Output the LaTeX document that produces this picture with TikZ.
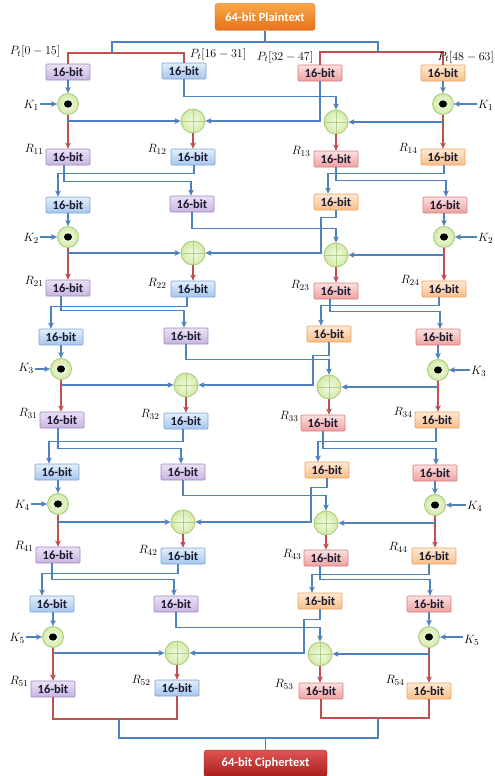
\documentclass[tikz,border=0pt]{standalone}
\usepackage{fontspec}
\newfontfamily\carl{Carlito}
\usetikzlibrary{arrows.meta,calc}
\definecolor{cBlue}{HTML}{4F81BD}
\definecolor{cRed}{HTML}{C0504D}
\definecolor{puT}{HTML}{EAE2F5}\definecolor{puB}{HTML}{C8B4E0}\definecolor{puD}{HTML}{9F86C6}
\definecolor{blT}{HTML}{E2EEFB}\definecolor{blB}{HTML}{A6C6EE}\definecolor{blD}{HTML}{7AA3D6}
\definecolor{rdT}{HTML}{FCE0E0}\definecolor{rdB}{HTML}{EEA0A0}\definecolor{rdD}{HTML}{D77C7C}
\definecolor{orT}{HTML}{FEE9D4}\definecolor{orB}{HTML}{F8BE88}\definecolor{orD}{HTML}{EBA060}
\definecolor{cgIn}{HTML}{F4FBE6}\definecolor{cgOut}{HTML}{D2EAA8}\definecolor{cgB}{HTML}{A8C878}\definecolor{cgL}{HTML}{B5CF8A}
\definecolor{ptT}{HTML}{F8A848}\definecolor{ptB}{HTML}{E5701A}\definecolor{ptD}{HTML}{D0681C}
\definecolor{ctT}{HTML}{E05454}\definecolor{ctB}{HTML}{A81C1C}\definecolor{ctD}{HTML}{9A2020}
\definecolor{txt}{HTML}{1A1A30}
\begin{document}
\begin{tikzpicture}[x=1pt,y=-1pt,
  bline/.style={cBlue, line width=1.5pt},
  rline/.style={cRed, line width=1.5pt},
  arr/.style={-{Stealth[length=6pt,width=5.5pt,inset=1.5pt]}},
  bx/.style={minimum width=44pt, minimum height=16pt, inner sep=0pt, line width=0.7pt,
     rounded corners=1pt, font=\carl\bfseries\fontsize{12.5}{13}\selectfont, text=txt},
  pu/.style={bx, draw=puD, top color=puT, bottom color=puB},
  blu/.style={bx, draw=blD, top color=blT, bottom color=blB},
  rdb/.style={bx, draw=rdD, top color=rdT, bottom color=rdB},
  org/.style={bx, draw=orD, top color=orT, bottom color=orB},
  dotc/.style={circle, minimum size=21pt, inner sep=0pt, draw=cgB, line width=0.8pt,
     inner color=cgIn, outer color=cgOut,
     path picture={\fill[black] (path picture bounding box.center) ellipse (4pt and 3.6pt);}},
  plusc/.style={circle, minimum size=24pt, inner sep=0pt, draw=cgB, line width=0.8pt,
     inner color=cgIn, outer color=cgOut,
     path picture={\draw[cgL, line width=0.6pt] (path picture bounding box.north) -- (path picture bounding box.south)
        (path picture bounding box.west) -- (path picture bounding box.east);}},
  mlab/.style={inner sep=1pt, font=\fontsize{13}{14}\selectfont},
  bigbox/.style={minimum width=#1, minimum height=27pt, inner sep=0pt, rounded corners=3pt,
     font=\carl\bfseries\fontsize{12.5}{13}\selectfont, text=white},
]
\useasboundingbox (0,0) rectangle (495,776);

% ---------- top ----------
\node[bigbox=100pt, draw=ptD, top color=ptT, bottom color=ptB] (pt) at (265,17) {64-bit Plaintext};
\node[pu]  (a0) at (68,72)  {16-bit};
\node[blu] (b0) at (184,71) {16-bit};
\node[rdb] (c0) at (320,73) {16-bit};
\node[org] (d0) at (443,73) {16-bit};
\coordinate (jL) at (112,53);
\coordinate (jR) at (378,52);
\draw[rline] (a0.north) |- (jL) -| (b0.north);
\draw[rline] (c0.north) |- (jR) -| (d0.north);
\draw[bline] (pt.south) -- (pt.south |- 0,42);
\draw[bline] (jL) |- (pt.south |- 0,42) -| (jR);
\node[mlab] (pl1) at (35,52) {$P_t[0-15]$};
\node[mlab] (pl2) at (218,55) {$P_t[16-31]$};
\node[mlab] (pl3) at (285,57) {$P_t[32-47]$};
\node[mlab, anchor=east] (pl4) at (495,57) {$P_t[48-63]$};

% ---------- round 1 ----------
\node[dotc] (k1a) at (68,104) {};
\node[dotc] (k1b) at (443,104) {};
\node[plusc] (p1a) at (193,121) {};
\node[plusc] (p1b) at (336,122) {};
\node[pu]  (r11) at (68,157)  {16-bit};
\node[blu] (r12) at (193,157) {16-bit};
\node[rdb] (r13) at (336,159) {16-bit};
\node[org] (r14) at (443,157) {16-bit};
\node[mlab, anchor=east] (kl1) at (40,105) {$K_1$};
\node[mlab, anchor=west] (kr1) at (477,105) {$K_1$};
\draw[bline,arr] (k1a.west -| kl1.east) -- (k1a.west);
\draw[bline,arr] (k1b.east -| kr1.west) -- (k1b.east);
\draw[bline,arr] (k1a.north |- a0.south) -- (k1a.north);
\draw[bline,arr] (k1b.north |- d0.south) -- (k1b.north);
\draw[rline,arr] (k1a.south) -- (k1a.south |- r11.north);
\draw[rline,arr] (p1a.south) -- (p1a.south |- r12.north);
\draw[rline,arr] (p1b.south) -- (p1b.south |- r13.north);
\draw[rline,arr] (k1b.south) -- (k1b.south |- r14.north);
\draw[bline,arr] (b0.south) -- ++(0,17) -| (p1b.north);
\draw[bline,arr] (c0.south) |- (p1a.east);
\draw[bline,arr] (k1a.south |- p1a.west) -- (p1a.west);
\draw[bline,arr] (k1b.south |- p1b.east) -- (p1b.east);
\node[mlab, anchor=east] (lr11) at ($(r11.west)+(-1,-8)$) {$R_{11}$};
\node[mlab, anchor=east] (lr12) at ($(r12.west)+(-3,-8)$) {$R_{12}$};
\node[mlab, anchor=east] (lr13) at ($(r13.west)+(-2,-8)$) {$R_{13}$};
\node[mlab, anchor=east] (lr14) at ($(r14.west)+(-2,-9)$) {$R_{14}$};

% ---------- row 2 ----------
\node[blu] (m11) at (68,205)  {16-bit};
\node[pu]  (m12) at (192,204) {16-bit};
\node[org] (m13) at (336,202) {16-bit};
\node[rdb] (m14) at (445,205) {16-bit};
\draw[bline,arr] ($(r11.south)+(-4,0)$) -- ++(0,16) -| ($(m12.north)+(-1,0)$);
\draw[bline,arr] ($(r12.south)+(1,0)$) -- ++(0,8) -| ($(m11.north)+(-10,0)$);
\draw[bline,arr] (r13.south) -- ++(0,13) -| ($(m14.north)+(1,0)$);
\draw[bline,arr] ($(r14.south)+(1,0)$) -- ++(0,8) -| ($(m13.north)+(-8,0)$);

% ---------- round 2 ----------
\node[dotc] (k2a) at (68,237) {};
\node[dotc] (k2b) at (444,237) {};
\node[plusc] (p2a) at (193,253) {};
\node[plusc] (p2b) at (336,255) {};
\node[pu]  (r21) at (68,288)  {16-bit};
\node[blu] (r22) at (193,289) {16-bit};
\node[rdb] (r23) at (336,291) {16-bit};
\node[org] (r24) at (444,289) {16-bit};
\node[mlab, anchor=east] (kl2) at (40,238) {$K_2$};
\node[mlab, anchor=west] (kr2) at (477,238) {$K_2$};
\draw[bline,arr] (k2a.west -| kl2.east) -- (k2a.west);
\draw[bline,arr] (k2b.east -| kr2.west) -- (k2b.east);
\draw[bline,arr] (k2a.north |- m11.south) -- (k2a.north);
\draw[bline,arr] (k2b.north |- m14.south) -- (k2b.north);
\draw[rline,arr] (k2a.south) -- (k2a.south |- r21.north);
\draw[rline,arr] (p2a.south) -- (p2a.south |- r22.north);
\draw[rline,arr] (p2b.south) -- (p2b.south |- r23.north);
\draw[rline,arr] (k2b.south) -- (k2b.south |- r24.north);
\draw[bline,arr] (m12.south) -- ++(0,16) -| (p2b.north);
\draw[bline,arr] (m13.south) -- ++(0,7) -| (p2a.east -| 321,0) -- (p2a.east);
\draw[bline,arr] (k2a.south |- p2a.west) -- (p2a.west);
\draw[bline,arr] (k2b.south |- p2b.east) -- (p2b.east);
\node[mlab, anchor=east] (lr21) at ($(r21.west)+(-1,-7)$) {$R_{21}$};
\node[mlab, anchor=east] (lr22) at ($(r22.west)+(-3,-6)$) {$R_{22}$};
\node[mlab, anchor=east] (lr23) at ($(r23.west)+(-3,-6)$) {$R_{23}$};
\node[mlab, anchor=east] (lr24) at ($(r24.west)+(-1,-9)$) {$R_{24}$};

% ---------- row 3 ----------
\node[blu] (m21) at (61,337)  {16-bit};
\node[pu]  (m22) at (186,336) {16-bit};
\node[org] (m23) at (329,334) {16-bit};
\node[rdb] (m24) at (438,337) {16-bit};
\draw[bline,arr] ($(r21.south)+(-7,0)$) -- ++(0,14) -| ($(m22.north)+(-2,0)$);
\draw[bline,arr] ($(r22.south)+(-6,0)$) -- ++(0,9) -| ($(m21.north)+(-10,0)$);
\draw[bline,arr] ($(r23.south)+(-6,0)$) -- ++(0,12) -| ($(m24.north)+(2,0)$);
\draw[bline,arr] ($(r24.south)+(-5,0)$) -- ++(0,8) -| ($(m23.north)+(-8,0)$);

% ---------- round 3 ----------
\node[dotc] (k3a) at (61,369) {};
\node[dotc] (k3b) at (438,370) {};
\node[plusc] (p3a) at (186,385) {};
\node[plusc] (p3b) at (329,387) {};
\node[pu]  (r31) at (62,420)  {16-bit};
\node[blu] (r32) at (186,421) {16-bit};
\node[rdb] (r33) at (323,423) {16-bit};
\node[org] (r34) at (437,420) {16-bit};
\node[mlab, anchor=east] (kl3) at (35,368) {$K_3$};
\node[mlab, anchor=west] (kr3) at (470,371) {$K_3$};
\draw[bline,arr] (k3a.west -| kl3.east) -- (k3a.west);
\draw[bline,arr] (k3b.east -| kr3.west) -- (k3b.east);
\draw[bline,arr] (k3a.north |- m21.south) -- (k3a.north);
\draw[bline,arr] (k3b.north |- m24.south) -- (k3b.north);
\draw[rline,arr] (k3a.south) -- (k3a.south |- r31.north);
\draw[rline,arr] (p3a.south) -- (p3a.south |- r32.north);
\draw[rline,arr] (p3b.south) -- (p3b.south |- r33.north);
\draw[rline,arr] (k3b.south) -- (k3b.south |- r34.north);
\draw[bline,arr] (m22.south) -- ++(0,15) -| (p3b.north);
\draw[bline,arr] (m23.south) -- ++(0,13) -| (p3a.east -| 313,0) -- (p3a.east);
\draw[bline,arr] (k3a.south |- p3a.west) -- (p3a.west);
\draw[bline,arr] (k3b.south |- p3b.east) -- (p3b.east);
\node[mlab, anchor=east] (lr31) at ($(r31.west)+(-1,-7)$) {$R_{31}$};
\node[mlab, anchor=east] (lr32) at ($(r32.west)+(-3,-7)$) {$R_{32}$};
\node[mlab, anchor=east] (lr33) at ($(r33.west)+(-1,-7)$) {$R_{33}$};
\node[mlab, anchor=east] (lr34) at ($(r34.west)+(-1,-8)$) {$R_{34}$};

% ---------- row 4 ----------
\node[blu] (m31) at (57,472)  {16-bit};
\node[pu]  (m32) at (183,472) {16-bit};
\node[org] (m33) at (327,470) {16-bit};
\node[rdb] (m34) at (435,473) {16-bit};
\draw[bline,arr] ($(r31.south)+(-4,0)$) -- ++(0,20) -| ($(m32.north)+(-2,0)$);
\draw[bline,arr] ($(r32.south)+(-3,0)$) -- ++(0,12) -| ($(m31.north)+(-8,0)$);
\draw[bline,arr] (r33.south) -- ++(0,17) -| ($(m34.north)+(1,0)$);
\draw[bline,arr] ($(r34.south)+(-1,0)$) -- ++(0,13) -| ($(m33.north)+(-9,0)$);

% ---------- round 4 ----------
\node[dotc] (k4a) at (58,504) {};
\node[dotc] (k4b) at (435,505) {};
\node[plusc] (p4a) at (183,522) {};
\node[plusc] (p4b) at (326,523) {};
\node[pu]  (r41) at (58,555)  {16-bit};
\node[blu] (r42) at (183,556) {16-bit};
\node[rdb] (r43) at (326,558) {16-bit};
\node[org] (r44) at (434,556) {16-bit};
\node[mlab, anchor=east] (kl4) at (31,505) {$K_4$};
\node[mlab, anchor=west] (kr4) at (466,506) {$K_4$};
\draw[bline,arr] (k4a.west -| kl4.east) -- (k4a.west);
\draw[bline,arr] (k4b.east -| kr4.west) -- (k4b.east);
\draw[bline,arr] (k4a.north |- m31.south) -- (k4a.north);
\draw[bline,arr] (k4b.north |- m34.south) -- (k4b.north);
\draw[rline,arr] (k4a.south) -- (k4a.south |- r41.north);
\draw[rline,arr] (p4a.south) -- (p4a.south |- r42.north);
\draw[rline,arr] (p4b.south) -- (p4b.south |- r43.north);
\draw[rline,arr] (k4b.south) -- (k4b.south |- r44.north);
\draw[bline,arr] (m32.south) -- ++(0,15) -| (p4b.north);
\draw[bline,arr] (m33.south) -- ++(0,9) -| (p4a.east -| 311,0) -- (p4a.east);
\draw[bline,arr] (k4a.south |- p4a.west) -- (p4a.west);
\draw[bline,arr] (k4b.south |- p4b.east) -- (p4b.east);
\node[mlab, anchor=east] (lr41) at ($(r41.west)+(-1,-9)$) {$R_{41}$};
\node[mlab, anchor=east] (lr42) at ($(r42.west)+(-2,-6)$) {$R_{42}$};
\node[mlab, anchor=east] (lr43) at ($(r43.west)+(-1,-4)$) {$R_{43}$};
\node[mlab, anchor=east] (lr44) at ($(r44.west)+(-3,-9)$) {$R_{44}$};

% ---------- row 5 ----------
\node[blu] (m41) at (52,604)  {16-bit};
\node[pu]  (m42) at (176,604) {16-bit};
\node[org] (m43) at (320,601) {16-bit};
\node[rdb] (m44) at (429,604) {16-bit};
\draw[bline,arr] ($(r41.south)+(-6,0)$) -- ++(0,16) -| ($(m42.north)+(-2,0)$);
\draw[bline,arr] ($(r42.south)+(-5,0)$) -- ++(0,9) -| ($(m41.north)+(-10,0)$);
\draw[bline,arr] ($(r43.south)+(-6,0)$) -- ++(0,13) -| ($(m44.north)+(1,0)$);
\draw[bline,arr] ($(r44.south)+(-5,0)$) -- ++(0,10) -| ($(m43.north)+(-8,0)$);

% ---------- round 5 ----------
\node[dotc] (k5a) at (53,637) {};
\node[dotc] (k5b) at (429,637) {};
\node[plusc] (p5a) at (177,653) {};
\node[plusc] (p5b) at (320,654) {};
\node[pu]  (r51) at (53,689)  {16-bit};
\node[blu] (r52) at (177,688) {16-bit};
\node[rdb] (r53) at (321,691) {16-bit};
\node[org] (r54) at (429,691) {16-bit};
\node[mlab, anchor=east] (kl5) at (26,638) {$K_5$};
\node[mlab, anchor=west] (kr5) at (463,640) {$K_5$};
\draw[bline,arr] (k5a.west -| kl5.east) -- (k5a.west);
\draw[bline,arr] (k5b.east -| kr5.west) -- (k5b.east);
\draw[bline,arr] (k5a.north |- m41.south) -- (k5a.north);
\draw[bline,arr] (k5b.north |- m44.south) -- (k5b.north);
\draw[rline,arr] (k5a.south) -- (k5a.south |- r51.north);
\draw[rline,arr] (p5a.south) -- (p5a.south |- r52.north);
\draw[rline,arr] (p5b.south) -- (p5b.south |- r53.north);
\draw[rline,arr] (k5b.south) -- (k5b.south |- r54.north);
\draw[bline,arr] (m42.south) -- ++(0,15) -| (p5b.north);
\draw[bline,arr] (m43.south) -- ++(0,10) -| (p5a.east -| 304,0) -- (p5a.east);
\draw[bline,arr] (k5a.south |- p5a.west) -- (p5a.west);
\draw[bline,arr] (k5b.south |- p5b.east) -- (p5b.east);
\node[mlab, anchor=east] (lr51) at ($(r51.west)+(-1,-8)$) {$R_{51}$};
\node[mlab, anchor=east] (lr52) at ($(r52.west)+(-3,-8)$) {$R_{52}$};
\node[mlab, anchor=east] (lr53) at ($(r53.west)+(-4,-7)$) {$R_{53}$};
\node[mlab, anchor=east] (lr54) at ($(r54.west)+(-1,-11)$) {$R_{54}$};

% ---------- bottom ----------
\node[bigbox=123pt, draw=ctD, top color=ctT, bottom color=ctB] (ct) at (265.5,763.5) {64-bit Ciphertext};
\coordinate (jBL) at (119,719);
\coordinate (jBR) at (378,718);
\draw[rline] (r51.south) |- (jBL) -| (r52.south);
\draw[rline] (r53.south) |- (jBR) -| (r54.south);
\draw[bline] (jBL) |- (ct.north |- 0,738) -| (jBR);
\draw[bline] (ct.north |- 0,738) -- (ct.north);
\end{tikzpicture}
\end{document}
